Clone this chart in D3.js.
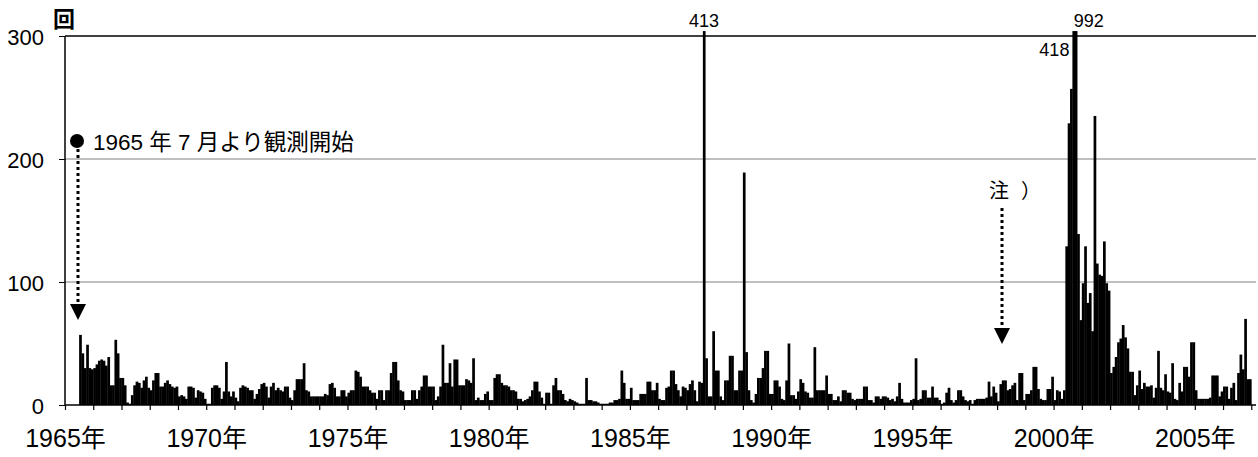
<!DOCTYPE html>
<html>
<head>
<meta charset="utf-8">
<script src="https://cdn.jsdelivr.net/npm/d3@7"></script>
<style>
  body { margin: 0; background: #fff; }
  text { font-family: "Liberation Sans", Arial, "Noto Sans CJK JP", sans-serif; fill: #000; }
</style>
</head>
<body>
<svg id="chart" width="1258" height="457"></svg>
<script>
// monthly counts (回), first value = July 1965
let counts_1965_69 = [57, 42, 30, 49, 30, 29,
  30, 33, 36, 37, 36, 32, 39, 16, 16, 53, 42, 22,
  22, 16, 2, 1, 8, 16, 19, 18, 14, 20, 23, 14,
  12, 20, 26, 26, 15, 15, 18, 20, 17, 15, 14, 15,
  7, 8, 7, 5, 15, 15, 14, 6, 12, 11, 10, 5]
let counts_1970_74 = [1, 1, 14, 16, 16, 14, 5, 11, 35, 11, 7, 11,
  6, 3, 14, 16, 15, 14, 12, 12, 5, 9, 13, 17,
  18, 15, 6, 15, 18, 12, 14, 12, 11, 15, 15, 6,
  4, 12, 21, 21, 21, 34, 12, 11, 7, 7, 7, 7,
  7, 7, 9, 8, 17, 18, 14, 7, 7, 12, 12, 7]
let counts_1975_79 = [10, 12, 12, 28, 27, 23, 15, 15, 15, 12, 10, 10,
  5, 12, 12, 4, 12, 12, 26, 35, 35, 20, 12, 11,
  4, 4, 4, 12, 12, 5, 12, 15, 24, 24, 15, 15,
  15, 4, 7, 15, 49, 18, 18, 34, 15, 37, 37, 16,
  16, 16, 21, 20, 18, 38, 4, 6, 4, 4, 9, 11]
let counts_1980_84 = [4, 4, 22, 25, 25, 18, 16, 16, 15, 12, 12, 11,
  5, 5, 3, 4, 5, 7, 12, 19, 19, 11, 6, 1,
  10, 10, 1, 16, 22, 12, 12, 9, 4, 3, 5, 4,
  3, 2, 1, 1, 1, 22, 4, 4, 3, 3, 2, 1,
  1, 1, 1, 2, 2, 4, 4, 5, 28, 18, 5, 5]
let counts_1985_89 = [14, 4, 4, 4, 9, 9, 9, 19, 19, 12, 12, 18,
  5, 4, 4, 14, 15, 28, 28, 17, 12, 7, 15, 14,
  12, 17, 20, 12, 3, 19, 18, 413, 38, 7, 7, 60,
  28, 28, 7, 4, 20, 20, 40, 40, 12, 12, 28, 28,
  189, 43, 12, 4, 2, 9, 22, 22, 30, 44, 44, 9]
let counts_1990_94 = [9, 20, 20, 15, 5, 4, 20, 50, 8, 8, 5, 11,
  21, 18, 11, 10, 6, 6, 47, 12, 12, 12, 12, 24,
  9, 9, 4, 4, 7, 3, 12, 12, 10, 10, 5, 4,
  5, 5, 5, 15, 15, 4, 4, 2, 7, 7, 5, 7,
  7, 6, 4, 5, 3, 7, 18, 5, 2, 2, 2, 4]
let counts_1995_99 = [5, 38, 4, 5, 12, 12, 6, 6, 15, 6, 6, 4,
  1, 2, 10, 14, 4, 2, 4, 12, 12, 7, 4, 3,
  4, 1, 4, 5, 5, 5, 5, 6, 19, 7, 15, 10,
  3, 17, 20, 20, 12, 13, 16, 18, 4, 26, 26, 4,
  9, 9, 12, 31, 31, 13, 5, 4, 4, 13, 13, 23]
let counts_2000_04 = [4, 12, 11, 5, 12, 129, 229, 257, 418, 992, 139, 69,
  99, 129, 83, 91, 60, 235, 115, 106, 105, 133, 99, 93,
  26, 31, 39, 51, 54, 65, 55, 46, 27, 27, 8, 16,
  28, 13, 18, 15, 15, 16, 6, 14, 44, 14, 12, 25,
  11, 10, 34, 5, 4, 18, 11, 31, 31, 23, 51, 51]
let counts_2005_06 = [12, 5, 5, 5, 5, 5, 6, 24, 24, 24, 7, 11,
  15, 15, 5, 14, 18, 4, 26, 41, 29, 70, 21, 21]

let first_month = 6   // months after January 1965
let year_labels = [1965, 1970, 1975, 1980, 1985, 1990, 1995, 2000, 2005]
let y_ticks = [0, 100, 200, 300]
let grid_values = [100, 200]
let peak_labels = ["413", "992", "418"]

let counts = [].concat(counts_1965_69, counts_1970_74, counts_1975_79,
  counts_1980_84, counts_1985_89, counts_1990_94, counts_1995_99,
  counts_2000_04, counts_2005_06)
let data = counts.map(function(v, i) { return { month: first_month + i, value: v } })

let m_left = 65, m_right = 1256, m_top = 36, m_bottom = 405
let n_months = 506
let cjk = '"Noto Sans CJK JP", sans-serif'

let svg = d3.select("#chart")

let x = d3.scaleLinear().domain([0, n_months]).range([m_left, m_right])
let y = d3.scaleLinear().domain([0, 300]).range([m_bottom, m_top])

// grid
svg.append("g").selectAll("line")
    .data(grid_values).enter()
  .append("line")
    .attr("x1", m_left).attr("x2", m_right)
    .attr("y1", d => y(d)).attr("y2", d => y(d))
    .attr("stroke", "#808080")
    .attr("stroke-width", 1)

// bars (tall ones are cut just above the frame)
let bw = x(1) - x(0)
svg.append("g").selectAll("rect")
    .data(data).enter()
  .append("rect")
    .attr("x", d => x(d.month))
    .attr("width", bw + 0.35)
    .attr("y", d => y(Math.min(d.value, 304)))
    .attr("height", d => y(0) - y(Math.min(d.value, 304)))
    .attr("fill", "#000")

// frame top
svg.append("line")
    .attr("x1", m_left).attr("x2", m_right)
    .attr("y1", y(300)).attr("y2", y(300))
    .attr("stroke", "#000").attr("stroke-width", 1.5)

// x axis: a tick every year, label every 5 years
let year_ticks = d3.range(0, n_months + 1, 12)
let xAxis = d3.axisBottom(x)
    .tickValues(year_ticks)
    .tickSize(5)
    .tickPadding(19)
    .tickFormat(function(m) {
      let yr = 1965 + m / 12
      return year_labels.indexOf(yr) >= 0 ? yr + "年" : ""
    })
let gx = svg.append("g")
    .attr("transform", "translate(0," + m_bottom + ")")
    .call(xAxis)
gx.select(".domain").attr("stroke-width", 1.5).attr("d", "M" + m_left + ",0H" + m_right)
gx.selectAll("text").attr("font-size", 25)
gx.selectAll("line").attr("stroke-width", 1.2)

// y axis
let yAxis = d3.axisLeft(y)
    .tickValues(y_ticks)
    .tickSize(6)
    .tickPadding(15)
let gy = svg.append("g")
    .attr("transform", "translate(" + m_left + ",0)")
    .call(yAxis)
gy.select(".domain").attr("stroke-width", 1.5).attr("d", "M0," + m_bottom + "V" + m_top)
gy.selectAll("text").attr("font-size", 22).attr("dy", "0.4em")

svg.append("text")
    .attr("x", 53).attr("y", 27)
    .attr("font-size", 22)
    .attr("font-weight", "bold")
    .style("font-family", cjk)
    .text("回")

// peak labels
svg.append("text").attr("x", x(271.5)).attr("y", 27)
    .attr("text-anchor", "middle").attr("font-size", 18).text(peak_labels[0])
svg.append("text").attr("x", x(429) - 1).attr("y", 27)
    .attr("font-size", 18).text(peak_labels[1])
svg.append("text").attr("x", x(428) - 3).attr("y", 56)
    .attr("text-anchor", "end").attr("font-size", 18).text(peak_labels[2])

// annotations
function dotted_arrow(xp, y1, y2) {
  svg.append("line")
      .attr("x1", xp).attr("x2", xp)
      .attr("y1", y1).attr("y2", y2 - 14)
      .attr("stroke", "#000")
      .attr("stroke-width", 3)
      .attr("stroke-dasharray", "3,3")
  svg.append("path")
      .attr("d", "M" + (xp - 8) + "," + (y2 - 16) + "L" + (xp + 8) + "," + (y2 - 16) + "L" + xp + "," + y2 + "Z")
      .attr("fill", "#000")
}

svg.append("circle").attr("cx", 77).attr("cy", 141).attr("r", 7).attr("fill", "#000")
dotted_arrow(78, 149, 320)
svg.append("text")
    .attr("x", 93).attr("y", 150)
    .attr("font-size", 22.5)
    .text("1965 年 7 月より観測開始")

let note = svg.append("text")
    .attr("x", 989).attr("y", 198)
    .attr("font-size", 20)
    .style("font-family", cjk)
note.append("tspan").text("注")
note.append("tspan").attr("dx", 12).text("）")
dotted_arrow(1002, 208, 344)
</script>
</body>
</html>
